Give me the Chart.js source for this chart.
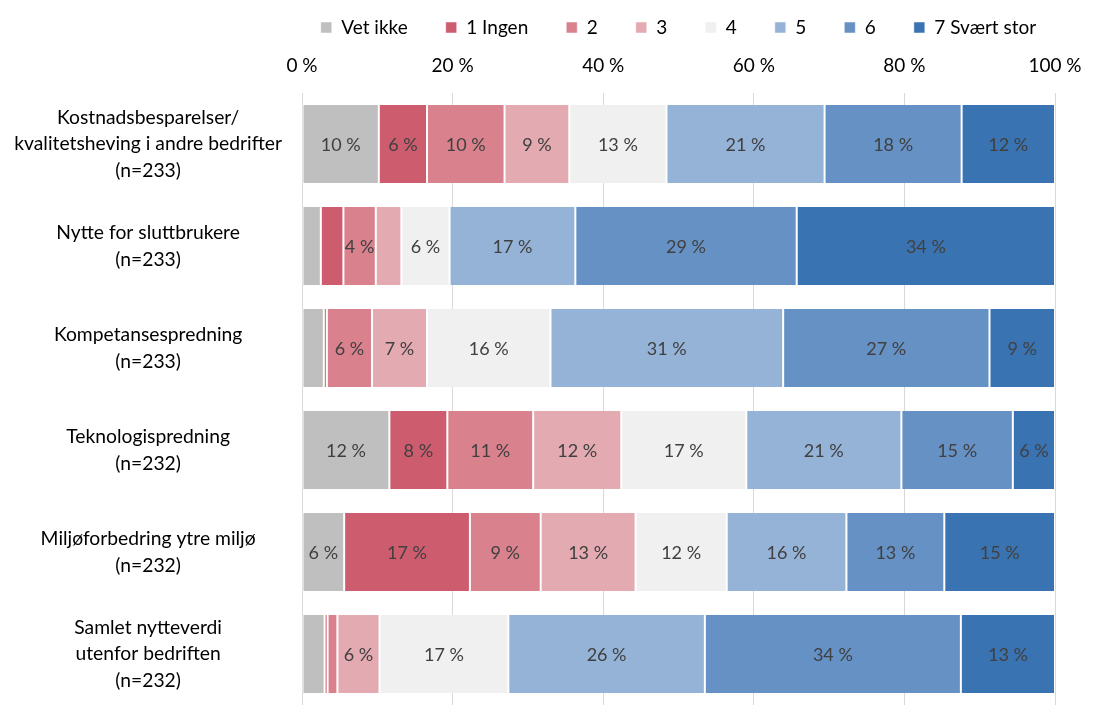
<!DOCTYPE html>
<html>
<head>
<meta charset="utf-8">
<script src="https://cdn.jsdelivr.net/npm/chart.js@4"></script>
<style>
  html, body { margin: 0; padding: 0; background: #fff; }
  #wrap { width: 1099px; height: 723px; }
</style>
</head>
<body>
<div id="wrap"><canvas id="myChart"></canvas></div>
<script>
// categories (multi-line labels)
const categories = [
	["Kostnadsbesparelser/", "kvalitetsheving i andre bedrifter", "(n=233)"],
	["Nytte for sluttbrukere", "(n=233)"],
	["Kompetansespredning", "(n=233)"],
	["Teknologispredning", "(n=232)"],
	["Miljøforbedring ytre miljø", "(n=232)"],
	["Samlet nytteverdi", "utenfor bedriften", "(n=232)"],
];

// series values, percent (one value per category)
const vetIkke = [10.2, 2.5, 2.9, 11.6, 5.6, 3.0];
const ingen1  = [6.4, 3.0, 0.4, 7.7, 16.7, 0.4];
const s2      = [10.3, 4.3, 6.0, 11.4, 9.4, 1.3];
const s3      = [8.6, 3.4, 7.3, 11.7, 12.6, 5.6];
const s4      = [12.9, 6.4, 16.4, 16.6, 12.1, 17.1];
const s5      = [21.0, 16.7, 30.9, 20.6, 15.9, 26.1];
const s6      = [18.2, 29.4, 27.4, 14.8, 13.0, 34.0];
const svaertStor7 = [12.4, 34.3, 8.7, 5.6, 14.7, 12.5];

const seriesNames = ["Vet ikke", "1 Ingen", "2", "3", "4", "5", "6", "7 Svært stor"];
const tickLabels = ["0 %", "20 %", "40 %", "60 %", "80 %", "100 %"];

const colors = ["#BFBFBF", "#CD5C6E", "#D9818D", "#E3AAB1", "#F0F0F0", "#95B3D7", "#6591C5", "#3A73B2"];
const allSeries = [vetIkke, ingen1, s2, s3, s4, s5, s6, svaertStor7];

const FONT = "Lato, 'Open Sans', sans-serif";

// draws the value labels inside the bar segments
const segmentLabels = {
	id: "segmentLabels",
	afterDatasetsDraw(chart) {
		const ctx = chart.ctx;
		ctx.save();
		ctx.font = "18px " + FONT;
		ctx.fillStyle = "#404040";
		ctx.textAlign = "center";
		ctx.textBaseline = "middle";
		chart.data.datasets.forEach((ds, i) => {
			const meta = chart.getDatasetMeta(i);
			meta.data.forEach((bar, j) => {
				const v = ds.data[j];
				if (v < 4) return;
				const cx = (bar.x + bar.base) / 2;
				ctx.fillText(Math.round(v) + " %", cx, bar.y + 1);
			});
		});
		ctx.restore();
	},
};

// centre the legend over the plot area instead of the whole canvas
const centerLegend = {
	id: "centerLegend",
	afterLayout(chart) {
		const lg = chart.legend;
		const w = lg.right - lg.left;
		const c = (chart.chartArea.left + chart.chartArea.right) / 2;
		lg.left = c - w / 2;
		lg.right = c + w / 2;
	},
};

const datasets = allSeries.map((d, i) => ({
	label: seriesNames[i],
	data: d,
	backgroundColor: colors[i],
	borderColor: "#ffffff",
	borderWidth: { left: 1, right: 1, top: 0, bottom: 0 },
	borderSkipped: false,
	categoryPercentage: 1,
	barPercentage: 0.765,
}));

const ctx = document.getElementById("myChart").getContext("2d");
const myChart = new Chart(ctx, {
	type: "bar",
	data: { labels: categories, datasets: datasets },
	plugins: [segmentLabels, centerLegend],
	options: {
		indexAxis: "y",
		responsive: true,
		maintainAspectRatio: false,
		animation: false,
		layout: { padding: { top: -20, right: 44, bottom: 18, left: 0 } },
		plugins: {
			legend: {
				position: "top",
				align: "center",
				labels: {
					boxWidth: 11,
					boxHeight: 11,
					padding: 38,
					color: "#000",
					font: { family: FONT, size: 19 },
				},
			},
			tooltip: { enabled: false },
		},
		scales: {
			x: {
				stacked: true,
				position: "top",
				min: 0,
				max: 100,
				ticks: {
					stepSize: 20,
					color: "#000",
					font: { family: FONT, size: 19 },
					padding: 16,
					callback: (v) => tickLabels[v / 20],
				},
				grid: { color: "#D9D9D9", drawTicks: false },
				border: { display: false },
				afterFit: (scale) => { scale.height = 46; },
			},
			y: {
				stacked: true,
				ticks: {
					color: "#000",
					font: { family: FONT, size: 19.3, lineHeight: 1.38 },
					crossAlign: "center",
					padding: 12,
				},
				grid: { display: false },
				border: { display: false },
				afterFit: (scale) => {
					scale.width = 302;
					scale.paddingTop = 0;
					scale.paddingBottom = 0;
				},
			},
		},
	},
});
</script>
</body>
</html>
